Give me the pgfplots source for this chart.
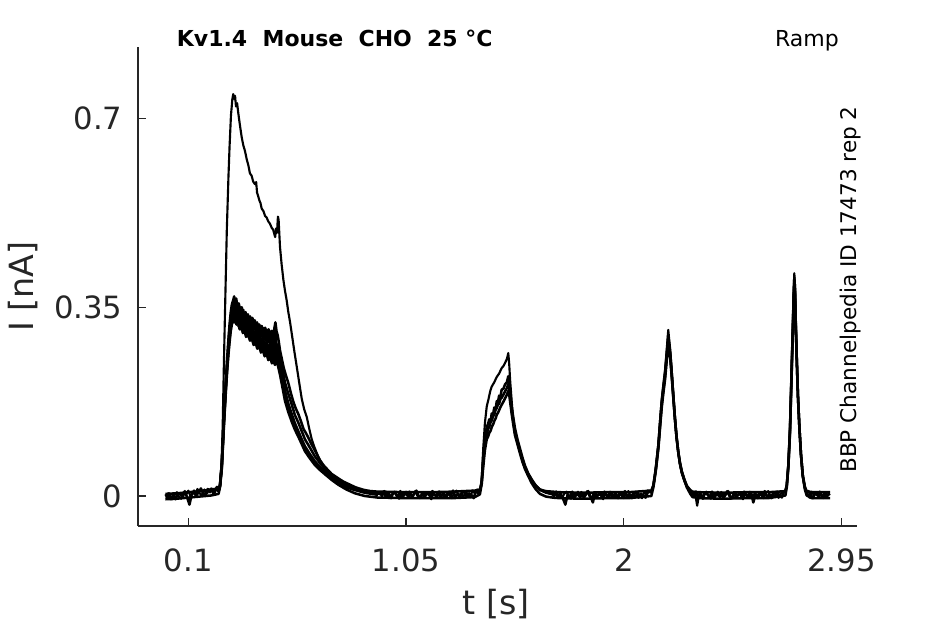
\documentclass[border=0pt]{standalone}
\usepackage{pgfplots}
\pgfplotsset{compat=1.18}
\usepackage{fontspec}
\setmainfont{DejaVu Sans}
\definecolor{axgray}{HTML}{262626}
\tikzset{tr/.style={black, line width=1.9pt, line join=round, mark=none},
         trA/.style={black, line width=1.6pt, line join=round, mark=none}}
\begin{document}
\begin{tikzpicture}
\useasboundingbox (-103.5pt,-73.5pt) rectangle (605.25pt,394.5pt);
\begin{axis}[
  at={(0pt,0pt)}, anchor=south west,
  width=539pt, height=358.9pt, scale only axis,
  xmin=-0.1195, xmax=3.016, ymin=-0.0556, ymax=0.8315,
  axis lines*=left,
  axis line style={draw=axgray, line width=0.9pt, -},
  x axis line style={-}, y axis line style={-},
  xtick={0.1,1.05,2,2.95}, xticklabels={0.1,1.05,2,2.95},
  ytick={0,0.35,0.7}, yticklabels={0,0.35,0.7},
  tick align=inside, major tick length=6pt,
  tick style={draw=axgray, line width=0.9pt},
  ticklabel style={font=\fontsize{23}{27}\selectfont, text=axgray, inner sep=0pt},
  xticklabel style={anchor=north, yshift=-16.7pt},
  yticklabel style={anchor=east, xshift=-11.5pt},
]
% Trace 1 (large first sweep)
\addplot[trA] coordinates {
(0.00,0.003)(0.01,-0.005)(0.02,0.002)(0.03,-0.006)(0.04,0.002)(0.05,0.007)(0.06,-0.002)(0.07,-0.005)(0.08,0.007)(0.09,0.002)(0.10,0.010)(0.11,-0.001)(0.12,0.007)(0.13,0.002)(0.14,0.013)(0.15,0.005)(0.16,0.001)(0.17,0.012)(0.18,0.004)(0.19,0.010)(0.20,0.014)(0.21,0.002)(0.22,0.014)(0.23,0.009)
(0.238,0.02)(0.245,0.06)(0.250,0.13)(0.255,0.24)(0.260,0.339)(0.268,0.493)(0.275,0.59)(0.280,0.648)(0.286,0.705)(0.292,0.735)(0.296,0.745)
(0.300,0.736)(0.304,0.742)(0.308,0.722)(0.313,0.728)(0.318,0.710)(0.325,0.688)(0.333,0.665)(0.340,0.650)(0.347,0.640)(0.355,0.624)(0.362,0.613)(0.369,0.598)(0.376,0.594)(0.383,0.583)(0.391,0.578)(0.396,0.582)(0.400,0.562)(0.404,0.557)(0.410,0.548)(0.415,0.543)(0.420,0.533)(0.428,0.528)(0.435,0.519)(0.442,0.516)(0.449,0.509)(0.456,0.505)(0.464,0.497)(0.470,0.494)(0.475,0.486)(0.479,0.480)(0.483,0.496)(0.487,0.488)(0.491,0.518)(0.494,0.512)(0.500,0.462)(0.507,0.430)(0.515,0.400)(0.522,0.380)(0.529,0.363)(0.536,0.342)(0.544,0.322)(0.551,0.302)(0.562,0.270)(0.573,0.240)(0.585,0.207)(0.595,0.180)(0.606,0.160)(0.617,0.146)(0.628,0.124)(0.638,0.106)(0.649,0.092)(0.660,0.080)(0.671,0.069)(0.682,0.060)(0.700,0.050)(0.720,0.041)(0.745,0.032)(0.770,0.026)(0.800,0.020)(0.830,0.015)(0.860,0.011)(0.890,0.008)(0.920,0.005)(0.940,0.004)
(0.95,0.008)(0.96,-0.001)(0.97,0.006)(0.98,-0.004)(0.99,0.004)(1.00,0.008)(1.01,-0.001)(1.02,-0.005)(1.03,0.006)(1.04,0.001)(1.05,0.008)(1.06,-0.003)(1.07,0.004)(1.08,-0.001)(1.09,0.009)(1.10,0.000)(1.11,-0.004)(1.12,0.006)(1.13,-0.002)(1.14,0.003)(1.15,0.007)(1.16,-0.006)(1.17,0.005)(1.18,0.000)(1.19,0.008)(1.20,-0.002)(1.21,0.004)(1.22,-0.003)(1.23,0.006)(1.24,0.001)(1.25,-0.004)(1.26,0.006)(1.27,0.010)(1.28,0.001)(1.29,0.005)(1.30,-0.002)(1.31,0.009)(1.32,0.003)(1.33,-0.002)(1.34,0.010)(1.35,0.005)(1.36,0.012)(1.37,0.006)
(1.375,0.012)(1.380,0.03)(1.387,0.09)(1.394,0.135)(1.402,0.166)(1.410,0.180)(1.417,0.194)(1.424,0.203)(1.435,0.211)(1.446,0.221)(1.456,0.227)(1.467,0.237)(1.475,0.241)(1.482,0.247)(1.490,0.254)(1.496,0.265)(1.500,0.245)(1.504,0.215)(1.511,0.175)(1.518,0.140)(1.525,0.118)(1.536,0.100)(1.547,0.084)(1.558,0.068)(1.569,0.054)(1.583,0.040)(1.598,0.029)(1.615,0.020)(1.634,0.011)(1.660,0.006)(1.690,0.003)
(1.70,0.007)(1.71,-0.002)(1.72,0.005)(1.73,-0.004)(1.74,0.004)(1.75,0.008)(1.76,-0.001)(1.77,-0.005)(1.78,0.006)(1.79,0.001)(1.80,0.008)(1.81,-0.003)(1.82,0.004)(1.83,-0.001)(1.84,0.009)(1.85,0.000)(1.86,-0.004)(1.87,0.006)(1.88,-0.002)(1.89,0.003)(1.90,0.007)(1.91,-0.006)(1.92,0.005)(1.93,0.000)(1.94,0.008)(1.95,-0.002)(1.96,0.004)(1.97,-0.003)(1.98,0.006)(1.99,0.001)(2.00,-0.004)(2.01,0.005)(2.02,0.009)(2.03,-0.001)(2.04,0.004)(2.05,-0.002)(2.06,0.008)(2.07,0.000)(2.08,-0.004)(2.09,0.008)(2.10,0.002)(2.11,0.010)(2.12,0.006)
(2.125,0.012)(2.129,0.02)(2.135,0.035)(2.140,0.055)(2.146,0.078)(2.151,0.098)(2.158,0.140)(2.165,0.178)(2.172,0.205)(2.180,0.234)(2.187,0.270)(2.194,0.308)(2.198,0.290)(2.203,0.270)(2.209,0.234)(2.216,0.190)(2.223,0.147)(2.230,0.110)(2.238,0.079)(2.245,0.058)(2.253,0.042)(2.264,0.028)(2.275,0.017)(2.290,0.009)(2.300,0.005)
(2.31,0.008)(2.32,-0.018)(2.33,0.006)(2.34,-0.004)(2.35,0.004)(2.36,0.008)(2.37,-0.001)(2.38,-0.005)(2.39,0.006)(2.40,0.001)(2.41,0.008)(2.42,-0.003)(2.43,0.004)(2.44,-0.001)(2.45,0.009)(2.46,0.000)(2.47,-0.004)(2.48,0.006)(2.49,-0.002)(2.50,0.003)(2.51,0.007)(2.52,-0.006)(2.53,0.005)(2.54,0.000)(2.55,0.008)(2.56,-0.002)(2.57,0.004)(2.58,-0.003)(2.59,0.006)(2.60,0.001)(2.61,-0.004)(2.62,0.006)(2.63,0.009)(2.64,-0.001)(2.65,0.004)(2.66,-0.002)(2.67,0.008)(2.68,0.000)(2.69,-0.003)(2.70,0.008)
(2.705,0.010)(2.711,0.02)(2.718,0.06)(2.725,0.128)(2.729,0.19)(2.733,0.252)(2.738,0.33)(2.741,0.38)(2.744,0.413)(2.747,0.39)(2.750,0.33)(2.755,0.252)(2.760,0.185)(2.766,0.128)(2.773,0.075)(2.781,0.036)(2.790,0.015)(2.798,0.006)
(2.80,0.005)(2.81,-0.003)(2.82,0.008)(2.83,0.001)(2.84,0.007)(2.85,-0.002)(2.86,0.006)(2.87,-0.004)(2.88,0.005)(2.89,0.001)(2.90,0.004)
};
% Trace 2
\addplot[tr] coordinates {
(0.005,-0.005)(0.015,0.005)(0.025,-0.006)(0.035,0.002)(0.045,-0.006)(0.055,0.005)(0.065,0.003)(0.075,-0.002)(0.085,0.009)(0.095,-0.003)(0.105,-0.016)(0.115,0.003)(0.125,0.010)(0.135,0.001)(0.145,0.007)(0.155,0.014)(0.165,0.004)(0.175,0.002)(0.185,0.013)(0.195,0.007)(0.205,0.013)(0.215,0.006)(0.225,0.017)(0.232,0.012)
(0.238,0.02)(0.246,0.06)(0.251,0.105)(0.256,0.154)(0.260,0.185)(0.264,0.215)(0.270,0.258)(0.275,0.29)(0.280,0.318)(0.285,0.34)(0.290,0.355)(0.296,0.363)(0.300,0.370)(0.304,0.360)(0.309,0.366)(0.314,0.352)(0.320,0.357)(0.326,0.345)(0.333,0.350)(0.340,0.336)(0.347,0.340)(0.354,0.328)(0.361,0.334)(0.369,0.322)(0.376,0.327)(0.383,0.316)(0.391,0.322)(0.398,0.312)(0.406,0.318)(0.413,0.308)(0.420,0.315)(0.428,0.305)(0.435,0.312)(0.442,0.303)(0.450,0.309)(0.457,0.300)(0.464,0.306)(0.471,0.298)(0.476,0.312)(0.480,0.322)(0.485,0.305)(0.490,0.298)(0.495,0.285)(0.500,0.270)(0.508,0.254)(0.516,0.238)(0.524,0.226)(0.536,0.210)(0.548,0.190)(0.558,0.175)(0.569,0.162)(0.580,0.152)(0.592,0.138)(0.603,0.124)(0.614,0.116)(0.624,0.108)(0.636,0.097)(0.648,0.088)(0.660,0.078)(0.675,0.066)(0.690,0.057)(0.705,0.050)(0.725,0.041)(0.750,0.034)(0.775,0.027)(0.800,0.022)(0.830,0.016)(0.860,0.012)(0.890,0.009)(0.920,0.006)(0.940,0.003)
(0.945,0.000)(0.955,0.009)(0.965,-0.002)(0.975,0.005)(0.985,-0.004)(0.995,0.007)(1.005,0.004)(1.015,-0.001)(1.025,0.009)(1.035,-0.003)(1.045,0.006)(1.055,0.001)(1.065,0.008)(1.075,-0.002)(1.085,0.004)(1.095,0.010)(1.105,0.000)(1.115,-0.003)(1.125,0.007)(1.135,0.001)(1.145,0.006)(1.155,-0.001)(1.165,0.009)(1.175,0.002)(1.185,-0.002)(1.195,0.008)(1.205,0.000)(1.215,0.005)(1.225,-0.003)(1.235,0.007)(1.245,0.001)(1.255,0.010)(1.265,-0.001)(1.275,0.004)(1.285,-0.003)(1.295,0.006)(1.305,0.008)(1.315,-0.002)(1.325,0.005)(1.335,0.002)(1.345,-0.004)(1.355,0.010)(1.365,0.005)(1.375,0.014)
(1.380,0.028)(1.387,0.075)(1.394,0.105)(1.402,0.128)(1.408,0.134)(1.413,0.142)(1.419,0.140)(1.424,0.153)(1.430,0.152)(1.435,0.164)(1.441,0.162)(1.446,0.176)(1.451,0.174)(1.456,0.186)(1.462,0.184)(1.467,0.197)(1.475,0.199)(1.482,0.207)(1.490,0.211)(1.496,0.222)(1.500,0.212)(1.504,0.195)(1.511,0.165)(1.518,0.145)(1.525,0.126)(1.536,0.105)(1.547,0.088)(1.558,0.071)(1.569,0.056)(1.583,0.042)(1.598,0.031)(1.615,0.020)(1.634,0.012)(1.660,0.007)(1.690,0.003)
(1.695,-0.001)(1.705,0.008)(1.715,-0.003)(1.725,0.004)(1.735,-0.005)(1.745,-0.016)(1.755,0.003)(1.765,-0.002)(1.775,0.008)(1.785,-0.004)(1.795,0.005)(1.805,0.000)(1.815,0.007)(1.825,-0.003)(1.835,0.003)(1.845,0.009)(1.855,-0.001)(1.865,-0.012)(1.875,0.006)(1.885,0.000)(1.895,0.005)(1.905,-0.002)(1.915,0.008)(1.925,0.001)(1.935,-0.003)(1.945,0.007)(1.955,-0.001)(1.965,0.004)(1.975,-0.004)(1.985,0.006)(1.995,0.000)(2.005,0.009)(2.015,-0.002)(2.025,0.003)(2.035,-0.004)(2.045,0.005)(2.055,0.007)(2.065,-0.003)(2.075,0.004)(2.085,0.001)(2.095,-0.003)(2.105,0.010)(2.115,0.007)
(2.120,0.008)(2.129,0.02)(2.140,0.052)(2.151,0.095)(2.158,0.135)(2.165,0.172)(2.172,0.200)(2.180,0.228)(2.187,0.262)(2.194,0.298)(2.198,0.282)(2.203,0.262)(2.209,0.228)(2.216,0.186)(2.223,0.145)(2.230,0.110)(2.238,0.080)(2.245,0.060)(2.253,0.044)(2.264,0.030)(2.275,0.018)(2.290,0.010)(2.300,0.005)
(2.305,0.001)(2.315,0.008)(2.325,-0.003)(2.335,0.004)(2.345,-0.005)(2.355,0.006)(2.365,0.003)(2.375,-0.002)(2.385,0.008)(2.395,-0.004)(2.405,0.005)(2.415,0.000)(2.425,0.007)(2.435,-0.003)(2.445,0.003)(2.455,0.009)(2.465,-0.001)(2.475,-0.004)(2.485,0.006)(2.495,0.000)(2.505,0.005)(2.515,-0.002)(2.525,0.008)(2.535,0.001)(2.545,-0.003)(2.555,0.007)(2.565,-0.012)(2.575,0.004)(2.585,-0.004)(2.595,0.006)(2.605,0.000)(2.615,0.009)(2.625,-0.002)(2.635,0.003)(2.645,-0.004)(2.655,0.005)(2.665,0.007)(2.675,-0.003)(2.685,0.004)(2.695,0.008)
(2.705,0.009)(2.711,0.02)(2.718,0.058)(2.725,0.124)(2.729,0.185)(2.733,0.246)(2.738,0.322)(2.741,0.372)(2.744,0.405)(2.747,0.384)(2.750,0.326)(2.755,0.250)(2.760,0.184)(2.766,0.128)(2.773,0.076)(2.781,0.037)(2.790,0.016)(2.798,0.006)
(2.805,0.009)(2.815,0.002)(2.825,-0.004)(2.835,0.006)(2.845,0.001)(2.855,0.008)(2.865,-0.003)(2.875,0.004)(2.885,-0.002)(2.895,0.006)
};
% Trace 3
\addplot[tr] coordinates {
(0,0.004)(0.05,0.005)(0.10,0.007)(0.15,0.009)(0.20,0.012)(0.232,0.014)
(0.238,0.018)(0.246,0.055)(0.256,0.145)(0.264,0.205)(0.270,0.245)(0.275,0.275)(0.280,0.30)(0.285,0.322)(0.290,0.335)(0.296,0.345)(0.300,0.340)(0.305,0.348)(0.311,0.336)(0.317,0.340)(0.324,0.328)(0.331,0.333)(0.338,0.320)(0.345,0.326)(0.352,0.314)(0.360,0.318)(0.369,0.306)(0.377,0.311)(0.385,0.300)(0.393,0.305)(0.401,0.293)(0.409,0.298)(0.417,0.287)(0.425,0.292)(0.433,0.281)(0.441,0.286)(0.449,0.275)(0.457,0.280)(0.465,0.270)(0.472,0.276)(0.478,0.268)(0.483,0.285)(0.487,0.272)(0.492,0.262)(0.500,0.245)(0.510,0.222)(0.522,0.195)(0.536,0.172)(0.551,0.152)(0.565,0.135)(0.580,0.120)(0.595,0.105)(0.609,0.092)(0.630,0.078)(0.653,0.064)(0.675,0.054)(0.697,0.045)(0.725,0.034)(0.754,0.026)(0.790,0.018)(0.827,0.013)(0.870,0.010)(0.928,0.008)
(0.95,0.008)(1.05,0.007)(1.15,0.007)(1.25,0.008)(1.35,0.010)(1.372,0.012)
(1.380,0.025)(1.387,0.065)(1.394,0.095)(1.402,0.115)(1.408,0.124)(1.413,0.128)(1.419,0.137)(1.424,0.140)(1.430,0.148)(1.435,0.151)(1.441,0.160)(1.446,0.163)(1.451,0.170)(1.456,0.171)(1.462,0.180)(1.467,0.182)(1.475,0.188)(1.482,0.194)(1.490,0.200)(1.496,0.208)(1.500,0.200)(1.504,0.185)(1.511,0.158)(1.518,0.138)(1.525,0.118)(1.536,0.100)(1.547,0.083)(1.558,0.066)(1.569,0.052)(1.583,0.039)(1.598,0.028)(1.615,0.019)(1.634,0.012)(1.660,0.009)(1.690,0.008)
(1.72,0.007)(1.82,0.006)(1.92,0.007)(2.02,0.007)(2.12,0.010)
(2.129,0.019)(2.140,0.050)(2.151,0.092)(2.158,0.130)(2.165,0.167)(2.172,0.194)(2.180,0.222)(2.187,0.256)(2.194,0.290)(2.198,0.278)(2.203,0.258)(2.209,0.225)(2.216,0.184)(2.223,0.144)(2.230,0.110)(2.238,0.080)(2.245,0.061)(2.253,0.045)(2.264,0.031)(2.275,0.019)(2.290,0.011)(2.300,0.008)
(2.33,0.007)(2.43,0.006)(2.53,0.007)(2.63,0.007)(2.705,0.009)
(2.711,0.019)(2.718,0.056)(2.725,0.120)(2.729,0.180)(2.733,0.240)(2.738,0.315)(2.741,0.365)(2.744,0.398)(2.747,0.378)(2.750,0.322)(2.755,0.248)(2.760,0.183)(2.766,0.128)(2.773,0.077)(2.781,0.038)(2.790,0.017)(2.798,0.009)
(2.82,0.007)(2.90,0.007)
};
% Trace 4
\addplot[tr] coordinates {
(0,-0.006)(0.05,-0.005)(0.10,-0.003)(0.15,-0.001)(0.20,0.001)(0.232,0.004)
(0.238,0.016)(0.246,0.05)(0.256,0.135)(0.264,0.195)(0.270,0.235)(0.275,0.262)(0.280,0.285)(0.285,0.305)(0.290,0.318)(0.296,0.328)(0.300,0.322)(0.305,0.330)(0.311,0.318)(0.317,0.322)(0.324,0.309)(0.331,0.315)(0.338,0.302)(0.345,0.307)(0.352,0.295)(0.360,0.300)(0.369,0.288)(0.377,0.292)(0.385,0.280)(0.393,0.285)(0.401,0.273)(0.409,0.278)(0.417,0.266)(0.425,0.271)(0.433,0.259)(0.441,0.264)(0.449,0.252)(0.457,0.257)(0.465,0.246)(0.472,0.251)(0.478,0.243)(0.483,0.258)(0.487,0.248)(0.492,0.240)(0.500,0.225)(0.510,0.203)(0.522,0.176)(0.536,0.156)(0.551,0.138)(0.565,0.123)(0.580,0.110)(0.595,0.096)(0.609,0.083)(0.630,0.070)(0.653,0.057)(0.675,0.048)(0.697,0.040)(0.725,0.030)(0.754,0.021)(0.790,0.012)(0.827,0.005)(0.870,0.000)(0.928,-0.003)
(0.95,-0.003)(1.05,-0.004)(1.15,-0.004)(1.25,-0.004)(1.35,-0.002)(1.372,0.003)
(1.380,0.022)(1.387,0.055)(1.394,0.085)(1.402,0.105)(1.408,0.110)(1.413,0.117)(1.419,0.121)(1.424,0.128)(1.430,0.133)(1.435,0.139)(1.441,0.144)(1.446,0.151)(1.451,0.154)(1.456,0.159)(1.462,0.165)(1.467,0.169)(1.475,0.175)(1.482,0.181)(1.490,0.188)(1.496,0.195)(1.500,0.188)(1.504,0.175)(1.511,0.152)(1.518,0.132)(1.525,0.113)(1.536,0.096)(1.547,0.079)(1.558,0.063)(1.569,0.050)(1.583,0.037)(1.598,0.024)(1.615,0.013)(1.634,0.004)(1.660,-0.001)(1.690,-0.003)
(1.72,-0.004)(1.82,-0.005)(1.92,-0.004)(2.02,-0.004)(2.12,0.000)
(2.129,0.016)(2.140,0.048)(2.151,0.089)(2.158,0.126)(2.165,0.162)(2.172,0.189)(2.180,0.216)(2.187,0.250)(2.194,0.282)(2.198,0.272)(2.203,0.253)(2.209,0.222)(2.216,0.182)(2.223,0.143)(2.230,0.109)(2.238,0.081)(2.245,0.062)(2.253,0.046)(2.264,0.030)(2.275,0.016)(2.290,0.004)(2.300,-0.002)
(2.33,-0.004)(2.43,-0.005)(2.53,-0.004)(2.63,-0.004)(2.705,0.001)
(2.711,0.016)(2.718,0.054)(2.725,0.116)(2.729,0.176)(2.733,0.236)(2.738,0.310)(2.741,0.358)(2.744,0.392)(2.747,0.372)(2.750,0.318)(2.755,0.246)(2.760,0.182)(2.766,0.128)(2.773,0.078)(2.781,0.037)(2.790,0.012)(2.798,0.001)
(2.82,-0.004)(2.90,-0.004)
};
% Traces 5 and 6 (first ramp of the remaining sweeps)
\addplot[tr] coordinates {
(0.232,0.010)(0.238,0.019)(0.246,0.057)(0.256,0.150)(0.264,0.210)(0.270,0.252)(0.275,0.282)(0.280,0.31)(0.285,0.331)(0.290,0.345)(0.296,0.355)
(0.300,0.360)(0.305,0.338)(0.310,0.356)(0.315,0.334)(0.320,0.352)(0.325,0.330)(0.330,0.349)(0.335,0.327)(0.340,0.345)(0.345,0.323)(0.350,0.341)(0.355,0.319)(0.360,0.337)(0.365,0.315)(0.370,0.333)(0.375,0.312)(0.380,0.330)(0.385,0.308)(0.390,0.326)(0.395,0.304)(0.400,0.322)(0.405,0.300)(0.410,0.318)(0.415,0.296)(0.420,0.315)(0.425,0.293)(0.430,0.311)(0.435,0.289)(0.440,0.307)(0.445,0.285)(0.450,0.303)(0.455,0.281)(0.460,0.300)(0.465,0.278)(0.470,0.296)(0.475,0.274)(0.480,0.305)(0.485,0.272)(0.490,0.280)(0.495,0.262)
(0.500,0.258)(0.510,0.236)(0.522,0.21)(0.536,0.19)(0.551,0.17)(0.565,0.15)(0.580,0.136)(0.595,0.12)(0.609,0.105)(0.630,0.09)(0.653,0.073)(0.675,0.061)(0.697,0.05)(0.725,0.038)(0.754,0.03)(0.790,0.021)(0.827,0.014)(0.870,0.009)(0.928,0.004)
};
\addplot[tr] coordinates {
(0.232,0.009)(0.238,0.017)(0.246,0.052)(0.256,0.140)(0.264,0.200)(0.270,0.240)(0.275,0.268)(0.280,0.292)(0.285,0.313)(0.290,0.327)(0.296,0.337)
(0.300,0.322)(0.305,0.340)(0.310,0.318)(0.315,0.336)(0.320,0.314)(0.325,0.332)(0.330,0.309)(0.335,0.327)(0.340,0.305)(0.345,0.323)(0.350,0.301)(0.355,0.319)(0.360,0.297)(0.365,0.315)(0.370,0.293)(0.375,0.310)(0.380,0.288)(0.385,0.306)(0.390,0.284)(0.395,0.302)(0.400,0.280)(0.405,0.298)(0.410,0.276)(0.415,0.294)(0.420,0.271)(0.425,0.289)(0.430,0.267)(0.435,0.285)(0.440,0.263)(0.445,0.281)(0.450,0.259)(0.455,0.277)(0.460,0.255)(0.465,0.272)(0.470,0.250)(0.475,0.268)(0.480,0.248)(0.485,0.275)(0.490,0.252)(0.495,0.245)
(0.500,0.235)(0.510,0.212)(0.522,0.186)(0.536,0.164)(0.551,0.145)(0.565,0.129)(0.580,0.115)(0.595,0.100)(0.609,0.087)(0.630,0.074)(0.653,0.060)(0.675,0.051)(0.697,0.042)(0.725,0.032)(0.754,0.024)(0.790,0.016)(0.827,0.011)(0.870,0.006)(0.928,0.002)
};
\end{axis}
\node[inner sep=0pt, anchor=base, font=\fontsize{25}{30}\selectfont, text=axgray] at (268.7pt,-66.75pt) {t [s]};
\node[inner sep=0pt, rotate=90, anchor=base, font=\fontsize{25}{30}\selectfont, text=axgray] at (-78.5pt,179.6pt) {I [nA]};
\node[inner sep=0pt, anchor=base west, font=\bfseries\fontsize{16.5}{20}\selectfont] at (29pt,359.5pt) {Kv1.4\ \ Mouse\ \ CHO\ \ 25\ °C};
\node[inner sep=0pt, anchor=base east, font=\fontsize{16.5}{20}\selectfont] at (525.75pt,359.5pt) {Ramp};
\node[inner sep=0pt, rotate=90, anchor=base west, font=\fontsize{16.2}{20}\selectfont] at (539pt,39.75pt) {BBP Channelpedia ID 17473 rep 2};
\end{tikzpicture}
\end{document}
